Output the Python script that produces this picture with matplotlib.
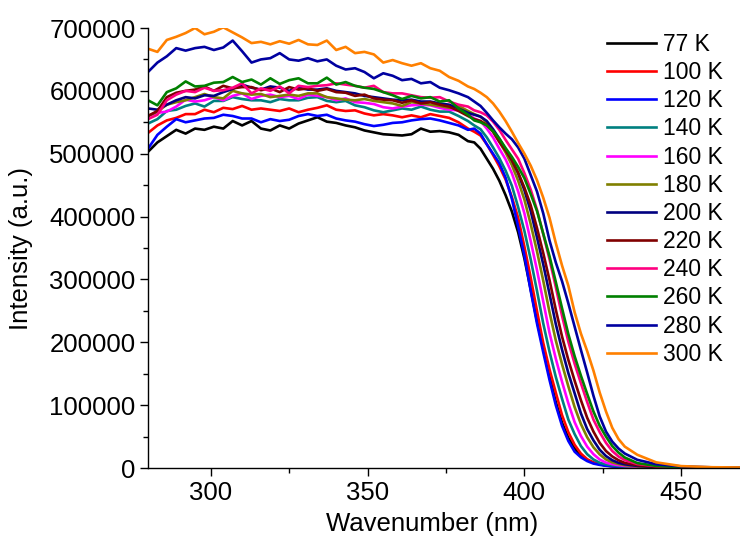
import matplotlib
matplotlib.use("Agg")
import matplotlib.pyplot as plt
from matplotlib.ticker import MultipleLocator, FuncFormatter

# wavelength grid (nm)
plateau_x = list(range(280, 383, 3))
edge_x = list(range(384, 433, 2)) + [436, 442, 450, 460, 470]
wavelength = plateau_x + edge_x

labels = ["77 K", "100 K", "120 K", "140 K", "160 K", "180 K",
          "200 K", "220 K", "240 K", "260 K", "280 K", "300 K"]
colors = ["#000000", "#FF0000", "#0000FF", "#008080", "#FF00FF", "#808000",
          "#000080", "#800000", "#FF0080", "#008000", "#0000A0", "#FF8000"]

# intensities in thousands (a.u.)
k77 = [503, 518, 528, 538, 532, 540, 538, 543, 540, 552, 545, 552, 540, 537, 545, 540, 548, 553,
       558, 551, 549, 545, 542, 537, 534, 531, 530, 529, 531, 540, 535, 536, 534, 530, 520,
       518, 508, 492, 476, 457, 434, 408, 375, 333, 284, 234, 190, 146, 105, 72, 48, 31, 20, 13, 8.5,
       6, 4, 3, 2.2, 1.6, 1, 0.6, 0.4, 0.3, 0.3]
k100 = [533, 545, 553, 557, 563, 563, 570, 566, 573, 571, 576, 570, 572, 570, 568, 572, 566, 570,
        573, 577, 570, 568, 569, 564, 561, 563, 561, 558, 561, 558, 563, 560, 557, 550, 540,
        535, 529, 515, 498, 480, 459, 431, 398, 352, 303, 250, 199, 157, 120, 84, 57, 37, 23, 14, 8.6,
        5.9, 4.1, 3, 2.1, 1.6, 1, 0.7, 0.5, 0.4, 0.3]
k120 = [508, 530, 543, 555, 550, 553, 556, 557, 562, 560, 556, 556, 550, 555, 552, 554, 560, 563,
        560, 562, 556, 553, 551, 547, 544, 546, 549, 550, 553, 555, 556, 553, 549, 545, 538,
        540, 532, 515, 500, 485, 462, 428, 384, 338, 282, 230, 184, 140, 100, 67, 43, 26, 17, 11, 7,
        5, 3.5, 2.5, 2, 1.5, 1, 0.6, 0.4, 0.3, 0.3]
k140 = [548, 555, 568, 570, 576, 580, 575, 584, 584, 590, 587, 585, 585, 582, 587, 585, 585, 589,
        590, 584, 582, 584, 577, 574, 569, 566, 569, 572, 570, 575, 570, 567, 567, 560, 552,
        545, 539, 526, 510, 493, 473, 449, 415, 377, 332, 282, 230, 185, 145, 110, 77, 54, 35, 22, 13.6,
        8.3, 5.8, 4.2, 3.1, 2.2, 1.4, 0.8, 0.6, 0.4, 0.3]
k160 = [560, 565, 567, 575, 586, 583, 585, 590, 585, 592, 596, 587, 592, 594, 590, 592, 587, 594,
        592, 590, 585, 588, 582, 581, 579, 574, 572, 575, 577, 578, 577, 573, 570, 569, 563,
        556, 552, 540, 526, 508, 491, 469, 440, 405, 361, 315, 265, 215, 174, 137, 103, 73, 51, 34, 22,
        13.5, 8.6, 6.1, 4.5, 3.3, 2, 1, 0.6, 0.4, 0.3]
k180 = [560, 567, 578, 582, 585, 590, 595, 590, 588, 600, 596, 594, 595, 590, 592, 594, 592, 596,
        596, 590, 588, 586, 585, 587, 584, 582, 580, 576, 582, 580, 578, 576, 573, 576, 568,
        563, 559, 550, 535, 519, 502, 482, 457, 427, 388, 345, 298, 248, 203, 165, 130, 97, 70, 49, 33,
        21.6, 13.6, 9, 6.4, 4.6, 2.6, 1.2, 0.7, 0.4, 0.3]
k200 = [572, 570, 578, 585, 590, 588, 593, 592, 598, 603, 610, 605, 602, 607, 605, 600, 605, 602,
        602, 604, 600, 598, 596, 592, 590, 588, 586, 585, 586, 583, 583, 580, 578, 572, 565,
        562, 559, 552, 539, 524, 507, 490, 469, 442, 409, 367, 324, 277, 229, 188, 151, 119, 87, 62, 44,
        29, 19, 12.4, 8.2, 5.9, 3.4, 1.6, 0.8, 0.5, 0.3]
k220 = [560, 568, 590, 597, 600, 602, 607, 600, 608, 604, 606, 606, 601, 604, 598, 606, 602, 604,
        600, 603, 598, 597, 592, 594, 588, 586, 585, 581, 585, 580, 582, 578, 575, 568, 560,
        555, 552, 546, 535, 519, 505, 490, 470, 446, 418, 382, 342, 299, 252, 209, 172, 139, 108, 80, 58,
        40, 27, 18.4, 12.3, 8.1, 4.5, 2, 1, 0.6, 0.4]
k240 = [555, 562, 585, 594, 600, 598, 605, 600, 601, 605, 612, 596, 604, 600, 607, 596, 608, 606,
        608, 609, 612, 610, 608, 605, 608, 598, 596, 596, 593, 590, 589, 590, 583, 578, 575,
        569, 566, 561, 551, 538, 522, 507, 492, 469, 443, 411, 372, 332, 288, 242, 201, 166, 135, 105, 77,
        57, 40, 27, 18.3, 12.6, 6.3, 2.9, 1.2, 0.7, 0.4]
k260 = [585, 577, 598, 604, 615, 607, 608, 613, 614, 622, 614, 618, 610, 620, 611, 617, 620, 612,
        612, 621, 610, 614, 608, 605, 603, 598, 593, 587, 592, 588, 590, 583, 585, 572, 562,
        553, 550, 545, 536, 524, 509, 495, 479, 461, 436, 409, 373, 337, 296, 254, 213, 178, 147, 118, 90,
        67, 50, 35, 24.5, 16.7, 7.8, 3.3, 1.4, 0.8, 0.5]
k280 = [630, 645, 655, 668, 664, 668, 670, 665, 669, 680, 663, 645, 650, 652, 660, 650, 648, 652,
        647, 650, 640, 634, 636, 630, 620, 628, 624, 617, 619, 612, 614, 605, 601, 596, 590,
        583, 576, 565, 553, 542, 532, 523, 510, 492, 466, 440, 405, 362, 327, 297, 262, 225, 188, 152, 115,
        82, 58, 42, 31, 23, 13, 6, 2.5, 1, 0.6]
k300 = [667, 662, 681, 686, 692, 700, 690, 694, 701, 693, 685, 676, 678, 674, 679, 675, 681, 674,
        673, 680, 665, 670, 660, 662, 658, 645, 649, 644, 640, 644, 636, 632, 622, 616, 607,
        603, 597, 590, 580, 567, 552, 535, 517, 500, 481, 458, 430, 398, 358, 322, 290, 248, 214, 186, 155,
        120, 90, 64, 46, 34, 21, 9, 3, 1.2, 0.8]

series = [k77, k100, k120, k140, k160, k180, k200, k220, k240, k260, k280, k300]

plt.rcParams['font.family'] = ['Liberation Sans', 'DejaVu Sans']

fig = plt.figure(figsize=(7.4, 5.4), dpi=100)
ax = fig.add_axes([148/740, 72/540, 596/740, 440/540])

for ys, lab, col in zip(series, labels, colors):
    ax.plot(wavelength, [v * 1000 for v in ys], color=col, lw=1.9, label=lab)

ax.set_xlim(280, 470)
ax.set_ylim(0, 700000)
ax.spines['top'].set_visible(False)
ax.spines['right'].set_visible(False)
ax.spines['left'].set_linewidth(1.0)
ax.spines['bottom'].set_linewidth(1.0)

ax.xaxis.set_major_locator(MultipleLocator(50))
ax.xaxis.set_minor_locator(MultipleLocator(25))
ax.yaxis.set_major_locator(MultipleLocator(100000))
ax.yaxis.set_minor_locator(MultipleLocator(50000))
ax.yaxis.set_major_formatter(FuncFormatter(lambda v, p: f"{int(round(v))}"))
ax.tick_params(which='major', direction='out', length=6, width=1, labelsize=18.5, pad=3)
ax.tick_params(which='minor', direction='out', length=3.5, width=1)

ax.set_xlabel("Wavenumber (nm)", fontsize=18.5)
ax.set_ylabel("Intensity (a.u.)", fontsize=18.5)
ax.xaxis.set_label_coords((432 - 148) / 596, (468 - 512) / 440)
ax.yaxis.set_label_coords((33 - 148) / 596, 0.5)

leg = fig.legend(loc='upper left', bbox_to_anchor=(607/740, 1 - 33/540),
                 frameon=False, fontsize=16.5, handlelength=2.15, handletextpad=0.28,
                 labelspacing=0.225, borderpad=0, borderaxespad=0)

fig.savefig("out.png", dpi=100)
